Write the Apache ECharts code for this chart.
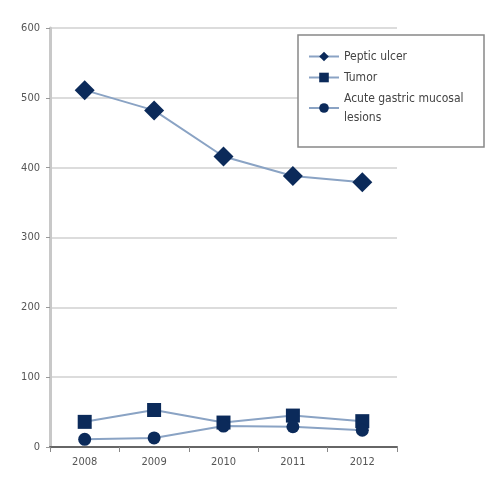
<!DOCTYPE html>
<html><head><meta charset="utf-8">
<script src="https://cdn.jsdelivr.net/npm/echarts@6/dist/echarts.min.js"></script>
<style>html,body{margin:0;padding:0;background:#fff}#c{width:500px;height:500px}</style>
</head><body><div id="c"></div>
<script>
const years = ['2008','2009','2010','2011','2012'];
const pepticUlcer = [511, 482, 416, 388, 379];
const tumor = [36, 53, 35, 45, 37];
const acuteGastric = [11, 13, 30, 29, 24];
const yTicks = [0, 100, 200, 300, 400, 500, 600];

const navy = '#0b2a5a';
const lineC = '#8aa3c4';
function mk(name, data, sym, size) {
  return {
    name, type: 'line', data, symbol: sym, symbolSize: size,
    itemStyle: { color: navy },
    lineStyle: { color: lineC, width: 2 }
  };
}
const chart = echarts.init(document.getElementById('c'));
chart.setOption({
  animation: false,
  textStyle: { fontFamily: 'DejaVu Sans Condensed, DejaVu Sans' },
  grid: { left: 50, right: 103, top: 28, bottom: 53 },
  legend: {
    orient: 'vertical', left: 298, top: 35, z: 10,
    backgroundColor: '#fff',
    padding: [12, 10, 20, 10], itemGap: 2, itemWidth: 30, itemHeight: 12,
    borderColor: '#888', borderWidth: 1.5,
    textStyle: { color: '#444', fontSize: 12, width: 130, overflow: 'break', lineHeight: 19 },
    data: ['Peptic ulcer', 'Tumor', 'Acute gastric mucosal lesions']
  },
  xAxis: {
    type: 'category', data: years, boundaryGap: true,
    axisLine: { lineStyle: { color: '#666', width: 2 } },
    axisTick: { show: true, lineStyle: { color: '#888' } },
    axisLabel: { color: '#555', fontSize: 11, margin: 10 }
  },
  yAxis: {
    type: 'value', min: yTicks[0], max: yTicks[yTicks.length - 1], interval: 100,
    axisLine: { show: true, lineStyle: { color: '#c8c8c8', width: 3 } },
    axisTick: { show: true, length: 4, lineStyle: { color: '#999' } },
    axisLabel: { color: '#555', fontSize: 11, margin: 10 },
    splitLine: { lineStyle: { color: '#dcdcdc', width: 2 } }
  },
  series: [
    mk('Peptic ulcer', pepticUlcer, 'diamond', 20),
    mk('Tumor', tumor, 'rect', 14),
    mk('Acute gastric mucosal lesions', acuteGastric, 'circle', 13)
  ]
});
</script></body></html>
